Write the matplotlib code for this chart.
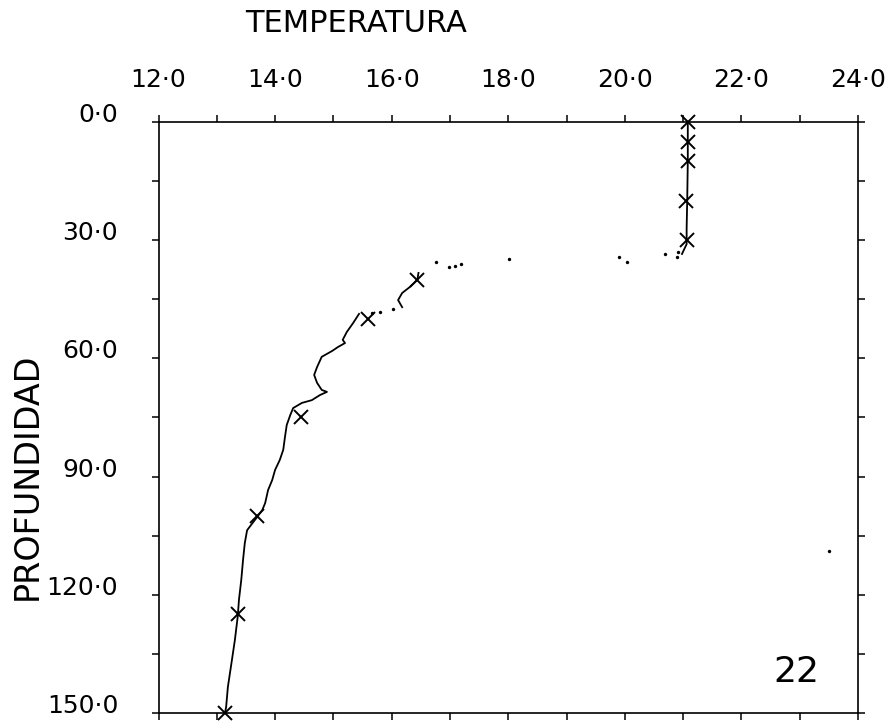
import numpy as np
import matplotlib
matplotlib.use("Agg")
import matplotlib.pyplot as plt
from matplotlib.ticker import MultipleLocator, FixedLocator

# --- data read off the plotted CTD cast (station 22) ---
# continuous trace pieces: temperature (deg C) and depth (m)
mixed_temp = [21.08, 21.08, 21.07, 21.06, 21.06, 20.98]
mixed_depth = [0.0, 10.0, 20.0, 27.0, 31.0, 33.5]

upper_temp = [16.46, 16.44, 16.31, 16.18, 16.11, 16.18]
upper_depth = [38.3, 40.1, 41.9, 43.4, 45.2, 47.0]

deep_temp = [15.44, 15.34, 15.23, 15.16, 15.20, 15.08, 14.98, 14.80, 14.72, 14.67,
             14.72, 14.80, 14.89, 14.77, 14.63, 14.46, 14.31, 14.26, 14.20, 14.17,
             14.14, 14.08, 14.00, 13.95, 13.88, 13.83, 13.78, 13.69, 13.52, 13.48,
             13.45, 13.42, 13.38, 13.36, 13.31, 13.26, 13.19, 13.16, 13.14]
deep_depth = [48.7, 51.0, 53.3, 55.3, 56.1, 57.1, 58.1, 59.6, 62.2, 64.2,
              66.2, 68.0, 68.5, 69.3, 70.6, 71.3, 72.6, 74.4, 76.9, 79.9,
              83.2, 85.8, 88.3, 90.9, 93.4, 96.7, 98.5, 100.3, 103.6, 106.9,
              111.2, 116.2, 121.3, 125.4, 131.5, 136.5, 143.4, 148.5, 150.0]

# isolated samples through the thermocline (and one stray point)
dot_temp = [20.91, 20.89, 20.69, 20.04, 19.90, 18.01, 17.19, 17.09, 16.98, 16.76,
            16.02, 15.80, 15.66, 23.5]
dot_depth = [33.0, 34.3, 33.5, 35.5, 34.3, 34.8, 36.0, 36.5, 36.8, 35.5,
             47.5, 48.2, 48.5, 108.9]

# bottle / standard depth values (crosses)
std_depth = [0, 5, 10, 20, 30, 40, 50, 75, 100, 125, 150]
std_temp = [21.08, 21.08, 21.08, 21.05, 21.07, 16.44, 15.59, 14.44, 13.69, 13.36, 13.14]

x_ticks = [12, 14, 16, 18, 20, 22, 24]
y_ticks = [0, 30, 60, 90, 120, 150]
station = "22"


def fmt(v):
    # plotter style labels, e.g. 12·0
    return f"{v:.1f}".replace(".", "\u00b7")


def main():
    fig = plt.figure(figsize=(8.85, 7.21), dpi=100)
    ax = fig.add_axes([0.1791, 0.0111, 0.7904, 0.8197])

    for t, d in [(mixed_temp, mixed_depth), (upper_temp, upper_depth), (deep_temp, deep_depth)]:
        ax.plot(t, d, color="black", lw=1.3)
    ax.scatter(dot_temp, dot_depth, s=6, color="black", linewidths=0)
    ax.plot(std_temp, std_depth, ls="none", marker="x", ms=10, mew=1.4, color="black",
            clip_on=False)

    ax.set_xlim(12, 24)
    ax.set_ylim(150, 0)

    # x axis on top, labels every 2 degrees, ticks every degree
    ax.xaxis.set_major_locator(FixedLocator(x_ticks))
    ax.xaxis.set_minor_locator(MultipleLocator(1))
    ax.set_xticklabels([fmt(v) for v in x_ticks])
    ax.yaxis.set_major_locator(FixedLocator(y_ticks))
    ax.yaxis.set_minor_locator(MultipleLocator(15))
    ax.set_yticklabels([fmt(v) for v in y_ticks])

    ax.tick_params(axis="x", which="both", top=True, bottom=True, labeltop=True,
                   labelbottom=False, direction="out", length=5, width=1.1,
                   labelsize=18, pad=16.5)
    ax.tick_params(axis="y", which="both", left=True, right=True, direction="out",
                   length=5, width=1.1, labelsize=18, pad=24)
    for lbl in ax.get_yticklabels():
        lbl.set_va("baseline")

    for sp in ax.spines.values():
        sp.set_linewidth(1.2)

    fig.text(356 / 885, 1 - 24 / 721, "TEMPERATURA", fontsize=22,
             ha="center", va="center")
    fig.text(27 / 885, 1 - 476 / 721, "PROFUNDIDAD", fontsize=24,
             rotation=90, ha="center", va="center")
    ax.text(22.95, 139.5, station, fontsize=26, ha="center", va="center")

    fig.savefig("out.png", dpi=100)
    plt.close(fig)


if __name__ == "__main__":
    main()
